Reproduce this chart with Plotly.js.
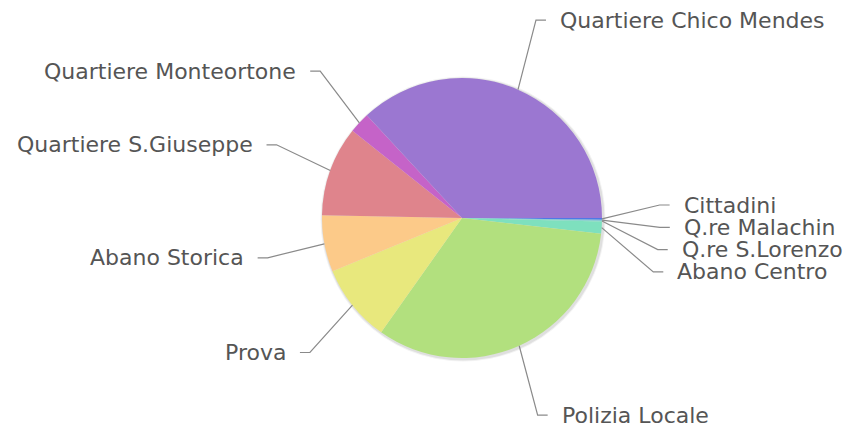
<!DOCTYPE html>
<html><head><meta charset="utf-8">
<script src="https://cdn.plot.ly/plotly-3.0.1.min.js"></script>
<style>html,body{margin:0;padding:0;background:#fff;}#chart{width:856px;height:429px;}</style>
</head><body><div id="chart"></div>
<script>
// ---- data (share of reports, %) ----
const labels = ["Cittadini", "Q.re Malachin", "Q.re S.Lorenzo", "Abano Centro", "Polizia Locale",
  "Prova", "Abano Storica", "Quartiere S.Giuseppe", "Quartiere Monteortone", "Quartiere Chico Mendes"];
const values = [0.2, 0.1, 0.1, 1.4, 33.0, 9.0, 6.5, 10.4, 2.4, 36.9];
const colors = ["#4f78e6", "#6cb4d6", "#7ad6c8", "#7ee0be", "#b2e07e",
  "#e8e87d", "#fcca89", "#df848c", "#c563c8", "#9b77d1"];

// ---- layout geometry ----
const W = 856, H = 429, CX = 462, CY = 218, R = 140;
const LR_Y = 216, LR_X = 220, SPACING = 22.3;
const FONT = {family: "DejaVu Sans, Verdana, sans-serif", size: 22, color: "#555555"};

const px = x => x / W, py = y => 1 - y / H;

const total = values.reduce((a, b) => a + b, 0);
let acc = 0;
const items = values.map((v, i) => {
  const a0 = acc / total * 360; acc += v; const a1 = acc / total * 360;
  const mid = (a0 + a1) / 2 * Math.PI / 180; // clockwise from 3 o'clock
  return {i, mid, right: Math.cos(mid) >= 0, y: CY + LR_Y * Math.sin(mid),
          ex: CX + R * Math.cos(mid), ey: CY + R * Math.sin(mid)};
});

// resolve overlaps per side in clusters
[true, false].forEach(side => {
  const s = items.filter(d => d.right === side).sort((a, b) => a.y - b.y);
  let k = 0;
  while (k < s.length) {
    let j = k;
    while (j + 1 < s.length && s[j + 1].y - s[j].y < SPACING) j++;
    if (j > k) {
      const cl = s.slice(k, j + 1);
      const start = cl[0].y;
      const disp = cl.map((d, n) => start + n * SPACING - d.y);
      const shift = disp.reduce((a, b) => a + b, 0) / disp.length / 2;
      cl.forEach((d, n) => { d.y = start + n * SPACING - shift; });
    }
    k = j + 1;
  }
});

const annotations = [], shapes = [];
items.forEach(d => {
  const dy = Math.max(-LR_X, Math.min(LR_X, d.y - CY));
  const dx = Math.sqrt(LR_X * LR_X - dy * dy);
  const sgn = d.right ? 1 : -1;
  const tx = CX + sgn * dx;
  const lineEnd = tx - sgn * 12, elbow = tx - sgn * 22;
  annotations.push({text: labels[d.i], x: px(tx), y: py(d.y), xref: "paper", yref: "paper",
    xanchor: d.right ? "left" : "right", yanchor: "middle", showarrow: false, font: FONT});
  shapes.push({type: "path", xref: "paper", yref: "paper",
    path: `M ${px(d.ex)} ${py(d.ey)} L ${px(elbow)} ${py(d.y)} L ${px(lineEnd)} ${py(d.y)}`,
    line: {color: "#8a8a8a", width: 1.2}});
});

function dom(cx, cy, r) {
  return {x: [px(cx - r), px(cx + r)], y: [py(cy + r), py(cy - r)]};
}

const shadow = (r, op) => ({type: "pie", values: [1], labels: ["s"], domain: dom(CX + 1, CY + 1, r),
  marker: {colors: [`rgba(0,0,0,${op})`]}, textinfo: "none", hoverinfo: "skip", showlegend: false, sort: false});

const data = [
  shadow(R + 2.5, 0.05), shadow(R + 1.5, 0.08),
  {type: "pie", labels: labels, values: values, marker: {colors: colors, line: {width: 0}},
   domain: dom(CX, CY, R), sort: false, direction: "clockwise", rotation: 90,
   textinfo: "none", hoverinfo: "label+percent", showlegend: false}
];

Plotly.newPlot("chart", data, {
  width: W, height: H, margin: {l: 0, r: 0, t: 0, b: 0},
  paper_bgcolor: "#fff", plot_bgcolor: "#fff", showlegend: false,
  annotations: annotations, shapes: shapes
}, {staticPlot: true});
</script></body></html>
